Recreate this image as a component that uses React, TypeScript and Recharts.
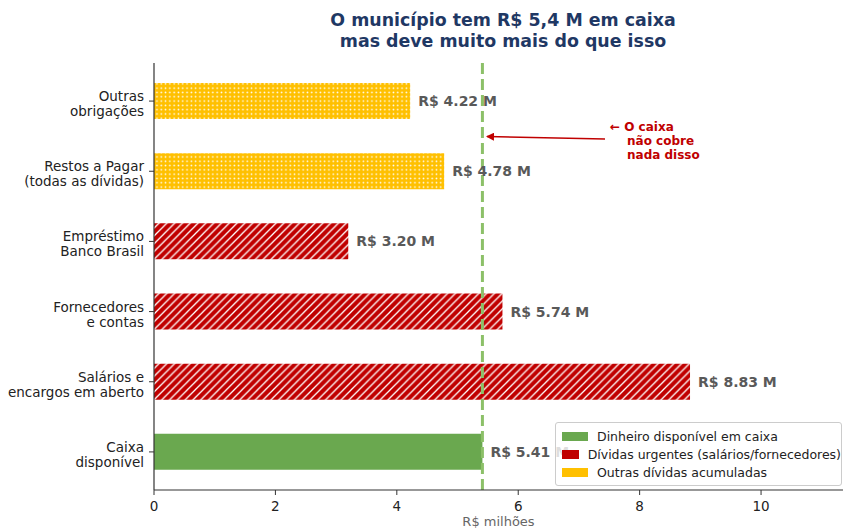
import React from "react";
import {
  BarChart,
  Bar,
  XAxis,
  YAxis,
  Cell,
  LabelList,
  ReferenceLine,
} from "recharts";

const categories = [
  "Outras\nobrigações",
  "Restos a Pagar\n(todas as dívidas)",
  "Empréstimo\nBanco Brasil",
  "Fornecedores\ne contas",
  "Salários e\nencargos em aberto",
  "Caixa\ndisponível",
];
const values = [4.22, 4.78, 3.2, 5.74, 8.83, 5.41];
const groups = ["outras", "outras", "urgente", "urgente", "urgente", "caixa"];
const xTicks = [0, 2, 4, 6, 8, 10];
const caixa = 5.41;

const FONT = "DejaVu Sans, sans-serif";
const GREEN = "#6aa84f";
const RED = "#c00000";
const YELLOW = "#ffc000";

const groupFill: Record<string, string> = {
  caixa: GREEN,
  urgente: "url(#hatchRed)",
  outras: "url(#dotsYellow)",
};

const legendItems = [
  { label: "Dinheiro disponível em caixa", color: GREEN },
  { label: "Dívidas urgentes (salários/fornecedores)", color: RED },
  { label: "Outras dívidas acumuladas", color: YELLOW },
];

const data = categories.map((name, i) => ({
  name,
  value: values[i],
  group: groups[i],
}));

const CategoryTick = (props: any) => {
  const { x, y, payload } = props;
  const lines = String(payload.value).split("\n");
  return (
    <text
      x={x - 3}
      y={y}
      textAnchor="end"
      fontFamily={FONT}
      fontSize={13.5}
      fill="#222"
    >
      {lines.map((l, i) => (
        <tspan key={i} x={x - 3} dy={i === 0 ? 0 : 15}>
          {l}
        </tspan>
      ))}
    </text>
  );
};

const XTick = (props: any) => {
  const { x, y, payload } = props;
  return (
    <text x={x} y={y + 4} textAnchor="middle" dominantBaseline="hanging" fontFamily={FONT} fontSize={13.5} fill="#222">
      {payload.value}
    </text>
  );
};

const ValueLabel = (props: any) => {
  const { x, y, width, height, value } = props;
  return (
    <text
      x={x + width + 8}
      y={y + height / 2}
      dominantBaseline="central"
      fontFamily={FONT}
      fontSize={14}
      fontWeight="bold"
      fill="#595959"
    >
      {`R$ ${Number(value).toFixed(2)} M`}
    </text>
  );
};

export default function App() {
  return (
    <div style={{ position: "absolute", left: 0, top: 0, width: 845, height: 529, background: "#fff" }}>
      <svg width={0} height={0} style={{ position: "absolute" }}>
        <defs>
          <pattern id="hatchRed" patternUnits="userSpaceOnUse" width={7.8} height={7.8}>
            <rect width={7.8} height={7.8} fill={RED} />
            <path
              d="M-1,1 L1,-1 M0,7.8 L7.8,0 M6.8,8.8 L8.8,6.8"
              stroke="#fff"
              strokeWidth={1.3}
            />
          </pattern>
          <pattern id="dotsYellow" patternUnits="userSpaceOnUse" width={4.3} height={4.3}>
            <rect width={4.3} height={4.3} fill={YELLOW} />
            <circle cx={2.15} cy={2.15} r={0.85} fill="#fff" />
          </pattern>
        </defs>
      </svg>
      <BarChart
        width={845}
        height={529}
        data={data}
        layout="vertical"
        margin={{ top: 63, right: 2, left: 0, bottom: 0 }}
      >
        <XAxis
          type="number"
          domain={[0, 11.35]}
          ticks={xTicks}
          allowDataOverflow
          height={39}
          tickSize={5}
          tick={<XTick />}
          axisLine={{ stroke: "#333", strokeWidth: 1.2 }}
          tickLine={{ stroke: "#333" }}
          label={{
            value: "R$ milhões",
            position: "insideBottom",
            offset: 3,
            fontFamily: FONT,
            fontSize: 13,
            fill: "#666",
          }}
        />
        <YAxis
          type="category"
          dataKey="name"
          width={154}
          tickSize={5}
          padding={{ top: 3, bottom: 3 }}
          tick={<CategoryTick />}
          axisLine={{ stroke: "#333", strokeWidth: 1.2 }}
          tickLine={{ stroke: "#333" }}
          interval={0}
        />
        <Bar dataKey="value" barSize={36} isAnimationActive={false}>
          {data.map((d, i) => (
            <Cell key={`cell-${i}`} fill={groupFill[d.group]} />
          ))}
          <LabelList dataKey="value" content={<ValueLabel />} />
        </Bar>
        <ReferenceLine
          x={caixa}
          stroke="#8cc068"
          strokeWidth={3}
          strokeDasharray="11 5"
        />
      </BarChart>
      <svg
        width={845}
        height={529}
        style={{ position: "absolute", left: 0, top: 0, pointerEvents: "none" }}
      >
        <defs>
          <marker id="arrowHead" markerWidth="8" markerHeight="8" refX="7" refY="4" orient="auto" markerUnits="userSpaceOnUse">
            <path d="M0,0 L8,4 L0,8 z" fill={RED} />
          </marker>
        </defs>
        <text
          x={503}
          textAnchor="middle"
          fontFamily={FONT}
          fontSize={17.4}
          fontWeight="bold"
          fill="#1f3864"
        >
          <tspan x={503} y={26}>O município tem R$ 5,4 M em caixa</tspan>
          <tspan x={503} y={47}>mas deve muito mais do que isso</tspan>
        </text>
        <line x1={605} y1={139} x2={487} y2={136.5} stroke={RED} strokeWidth={1.6} markerEnd="url(#arrowHead)" />
        <text fontFamily={FONT} fontSize={12} fontWeight="bold" fill={RED}>
          <tspan x={610} y={131}>← O caixa</tspan>
          <tspan x={627} y={145}>não cobre</tspan>
          <tspan x={627} y={159}>nada disso</tspan>
        </text>
      </svg>
      <div
        style={{
          position: "absolute",
          left: 555,
          top: 422,
          width: 287,
          height: 64,
          border: "1px solid #cccccc",
          borderRadius: 3,
          background: "rgba(255,255,255,0.8)",
          fontFamily: FONT,
          fontSize: 12.5,
          color: "#222",
          boxSizing: "border-box",
          paddingTop: 4,
        }}
      >
        {legendItems.map((it) => (
          <div key={it.label} style={{ display: "flex", alignItems: "center", height: 18 }}>
            <span style={{ display: "inline-block", width: 26, height: 9, background: it.color, marginLeft: 6, marginRight: 9 }} />
            <span style={{ whiteSpace: "nowrap" }}>{it.label}</span>
          </div>
        ))}
      </div>
    </div>
  );
}
